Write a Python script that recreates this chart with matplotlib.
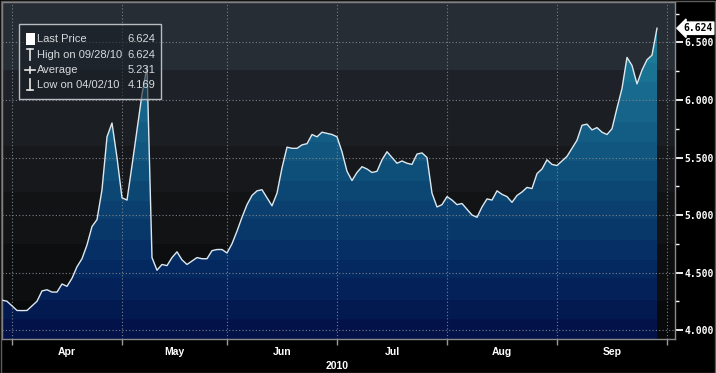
import numpy as np
import pandas as pd
import matplotlib
matplotlib.use("Agg")
import matplotlib.pyplot as plt
from matplotlib.colors import LinearSegmentedColormap
from matplotlib.patches import Rectangle
from matplotlib.lines import Line2D

# daily closes, 29 Mar 2010 - 28 Sep 2010 (weekdays)
dates = pd.bdate_range("2010-03-29", "2010-09-28")
prices = [
    4.26, 4.25, 4.21, 4.17, 4.169, 4.17, 4.21, 4.25, 4.34, 4.35,
    4.33, 4.33, 4.40, 4.38, 4.45, 4.55, 4.62, 4.74, 4.90, 4.96,
    5.22, 5.68, 5.80, 5.50, 5.15, 5.13, 5.43, 5.74, 6.05, 6.29,
    4.63, 4.52, 4.57, 4.56, 4.63, 4.68, 4.61, 4.57, 4.60, 4.63,
    4.62, 4.62, 4.69, 4.70, 4.70, 4.67, 4.75, 4.86, 4.98, 5.09,
    5.17, 5.21, 5.22, 5.15, 5.08, 5.19, 5.41, 5.59, 5.58, 5.58,
    5.61, 5.62, 5.70, 5.68, 5.72, 5.71, 5.70, 5.68, 5.55, 5.38,
    5.30, 5.37, 5.42, 5.40, 5.37, 5.38, 5.48, 5.55, 5.50, 5.45,
    5.47, 5.45, 5.44, 5.53, 5.54, 5.50, 5.19, 5.07, 5.09, 5.16,
    5.13, 5.09, 5.10, 5.05, 5.00, 4.98, 5.07, 5.14, 5.13, 5.21,
    5.18, 5.16, 5.11, 5.17, 5.20, 5.24, 5.23, 5.36, 5.40, 5.48,
    5.44, 5.43, 5.47, 5.51, 5.58, 5.65, 5.78, 5.79, 5.74, 5.76,
    5.72, 5.70, 5.75, 5.93, 6.10, 6.37, 6.30, 6.14, 6.26, 6.35,
    6.39, 6.624,
]
month_labels = ["Apr", "May", "Jun", "Jul", "Aug", "Sep"]
year_label = "2010"
y_ticks = [4.0, 4.5, 5.0, 5.5, 6.0, 6.5]

legend_rows = [
    ("Last Price", "6.624"),
    ("High on 09/28/10", "6.624"),
    ("Average", "5.231"),
    ("Low on 04/02/10", "4.169"),
]
last_price = 6.624

W, H = 716, 373
fx = lambda px: px / W
fy = lambda py: 1 - py / H
narrow = ["Liberation Sans", "DejaVu Sans"]

fig = plt.figure(figsize=(W / 100, H / 100), dpi=100, facecolor="black")
ax = fig.add_axes([fx(2), 34 / H, 673 / W, 337 / H])
x = np.arange(len(prices))
xmin, xmax = 0, 134.6
ymin, ymax = 3.922, 6.852
ax.set_xlim(xmin, xmax)
ax.set_ylim(ymin, ymax)

# banded background
bg_colors = ["#08090b", "#0d0e10", "#121315", "#16181b", "#1b1e23", "#1e2228", "#262d34"]
bg_edges = [ymin, 4.25, 4.75, 5.2, 5.6, 6.0, 6.26, ymax]
for lo, hi, c in zip(bg_edges[:-1], bg_edges[1:], bg_colors):
    ax.axhspan(lo, hi, color=c, zorder=0, lw=0)

# gradient fill under the line, clipped to the area
fill_cmap = LinearSegmentedColormap.from_list(
    "fill", ["#03134a", "#052a62", "#0b4371", "#135b83", "#1a7192", "#218ba6"], N=17)
grad = np.linspace(0, 1, 256).reshape(-1, 1)
im = ax.imshow(grad, extent=[xmin, xmax, ymin, ymax], origin="lower", cmap=fill_cmap,
               aspect="auto", zorder=2, interpolation="nearest")
area = ax.fill_between(x, prices, ymin, facecolor="none", edgecolor="none")
im.set_clip_path(area.get_paths()[0], transform=ax.transData)
ax.plot(x, prices, color="#dde8ee", lw=1.0, zorder=4)

# month boundaries (last weekday of previous month)
first_idx = [0]
for i in range(1, len(dates)):
    if dates[i].month != dates[i - 1].month:
        first_idx.append(i)
bounds = [i - 1 for i in first_idx[1:]] + [first_idx[-1] + 21]
centers = [(a + b) / 2 for a, b in zip(bounds[:-1], bounds[1:])]

grid_kw = dict(color="#7b8088", lw=0.8, ls=(0, (1, 2)), zorder=3)
for b in bounds:
    ax.axvline(b, **grid_kw)
for t in y_ticks:
    ax.axhline(t, **grid_kw)

ax.set_xticks(bounds)
ax.set_xticklabels([])
ax.tick_params(axis="x", which="major", length=4, color="#9a9a9a", width=1, direction="out")
ax.set_xticks(centers, minor=True)
ax.set_xticklabels(month_labels, minor=True, color="white", fontsize=7.5,
                   fontweight="bold", family=narrow)
ax.tick_params(axis="x", which="minor", length=0, pad=6)
ax.text(bounds[3], ymin - 0.19, year_label, color="white", fontsize=7.5,
        fontweight="bold", ha="center", va="top", family=narrow)

ax.yaxis.tick_right()
ax.set_yticks(y_ticks)
ax.set_yticklabels([f"{t:.3f}" for t in y_ticks], color="white", fontsize=7,
                   fontweight="bold", family="DejaVu Sans Mono")
ax.set_yticks(np.arange(4.25, 6.8, 0.5), minor=True)
ax.tick_params(axis="y", which="major", length=6, width=1.3, color="white", pad=1)
ax.tick_params(axis="y", which="minor", length=3, width=1, color="white")
for s in ax.spines.values():
    s.set_color("#8a8a8a")
    s.set_linewidth(1)

# last price tag
ax.annotate(f"{last_price:.3f}", xy=(1.0, last_price), xycoords=("axes fraction", "data"),
            xytext=(6, 0), textcoords="offset points", ha="left", va="center",
            color="black", fontsize=7, fontweight="bold", family="DejaVu Sans Mono",
            bbox=dict(boxstyle="larrow,pad=0.12", fc="white", ec="white"),
            annotation_clip=False, zorder=6)

# legend box
fig.add_artist(Rectangle((fx(19), fy(99)), fx(161) - fx(19), fy(24) - fy(99),
                         transform=fig.transFigure, facecolor="#1a1f25", alpha=0.6,
                         edgecolor="none", zorder=5))
fig.add_artist(Rectangle((fx(19), fy(99)), fx(161) - fx(19), fy(24) - fy(99),
                         transform=fig.transFigure, facecolor="none",
                         edgecolor="#b8bcc0", lw=1, zorder=6))
row_y = [39, 54.5, 70, 85.5]
for (label, val), ry in zip(legend_rows, row_y):
    fig.text(fx(37), fy(ry), label, color="#d6dade", fontsize=8, va="center",
             family=narrow, zorder=7)
    fig.text(fx(155), fy(ry), val, color="#d6dade", fontsize=8, va="center", ha="right",
             family=narrow, zorder=7)

icon = dict(color="#e8e8e8", lw=1.2, transform=fig.transFigure, zorder=7)
fig.add_artist(Rectangle((fx(26), fy(45)), fx(35) - fx(26), fy(33) - fy(45),
                         transform=fig.transFigure, facecolor="white", edgecolor="none", zorder=7))
fig.add_artist(Line2D([fx(27), fx(33)], [fy(49), fy(49)], **icon))
fig.add_artist(Line2D([fx(30), fx(30)], [fy(49), fy(60)], **icon))
fig.add_artist(Line2D([fx(25), fx(35)], [fy(70), fy(70)], **icon))
fig.add_artist(Line2D([fx(30), fx(30)], [fy(67), fy(73)], **icon))
fig.add_artist(Line2D([fx(30), fx(30)], [fy(79), fy(90)], **icon))
fig.add_artist(Line2D([fx(27), fx(33)], [fy(90), fy(90)], **icon))

# outer frame
fig.add_artist(Rectangle((0.5 / W, 0.5 / H), 1 - 1.5 / W, 1 - 1.5 / H, transform=fig.transFigure,
                         facecolor="none", edgecolor="#5c5c5c", lw=1, zorder=8))

fig.savefig("out.png", dpi=100, facecolor="black")
